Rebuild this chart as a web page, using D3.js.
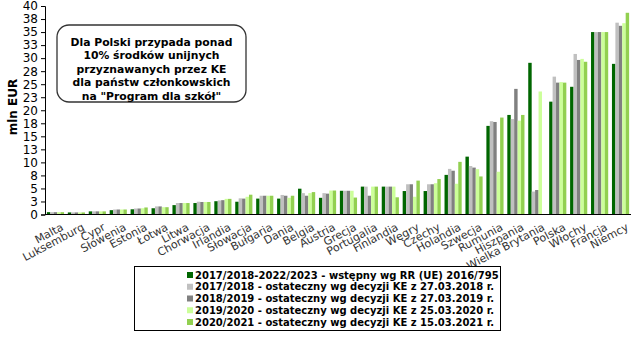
<!DOCTYPE html>
<html>
<head>
<meta charset="utf-8">
<script src="https://cdn.jsdelivr.net/npm/d3@7"></script>
<style>
  html, body { margin: 0; padding: 0; background: #fff; }
  svg { display: block; font-family: Verdana, "DejaVu Sans", sans-serif; }
</style>
</head>
<body>
<svg id="chart" width="638" height="337"></svg>
<script>
// Member states, sorted by the initial allocation
const countries = ["Malta","Luksemburg","Cypr","Słowenia","Estonia","Łotwa","Litwa","Chorwacja","Irlandia","Słowacja","Bułgaria","Dania","Belgia","Austria","Grecja","Portugalia","Finlandia","Węgry","Czechy","Holandia","Szwecja","Rumunia","Hiszpania","Wielka Brytania","Polska","Włochy","Francja","Niemcy"];

// Allocations in mln EUR, one array per allocation decision
const alloc2016 = [0.45,0.4,0.6,0.83,1.0,1.2,1.8,2.2,2.55,2.45,3.05,3.05,4.95,3.2,4.55,5.35,5.35,4.5,4.5,7.6,11.1,17.0,19.1,29.1,21.65,24.5,35.0,28.9];
const alloc2018 = [0.45,0.4,0.6,0.96,1.15,1.55,2.2,2.45,2.7,3.1,3.6,3.75,4.1,4.1,4.55,5.35,5.35,5.8,5.8,8.75,9.3,17.9,18.3,4.4,26.45,30.8,35.0,36.8];
const alloc2019 = [0.45,0.4,0.6,0.96,1.15,1.55,2.2,2.4,2.75,3.05,3.6,3.6,3.6,4.0,4.55,3.6,5.35,5.8,5.8,8.4,9.0,17.75,24.1,4.7,25.3,29.65,35.0,36.2];
const alloc2020 = [0.45,0.4,0.6,0.96,1.2,1.4,2.2,2.4,3.0,3.4,3.6,3.2,4.1,4.6,4.55,5.35,5.35,3.4,6.0,5.9,8.7,8.2,18.0,23.6,25.4,29.85,35.0,36.7];
const alloc2021 = [0.45,0.4,0.6,0.96,1.35,1.4,2.2,2.4,3.0,3.8,3.6,3.6,4.3,4.6,3.25,5.35,3.3,6.5,6.8,10.1,7.3,18.6,19.1,null,25.3,29.3,35.0,38.7];

const seriesNames = [
  "2017/2018-2022/2023 - wstępny wg RR (UE) 2016/795",
  "2017/2018 - ostateczny wg decyzji KE z 27.03.2018 r.",
  "2018/2019 - ostateczny wg decyzji KE z 27.03.2019 r.",
  "2019/2020 - ostateczny wg decyzji KE z 25.03.2020 r.",
  "2020/2021 - ostateczny wg decyzji KE z 15.03.2021 r."
];
const seriesColors = ["#006600", "#c0c0c0", "#808080", "#ccff99", "#92d050"];

const yTickValues = [0,2.5,5,7.5,10,12.5,15,17.5,20,22.5,25,27.5,30,32.5,35,37.5,40];
const yTickLabels = ["0","3","5","8","10","13","15","18","20","23","25","28","30","33","35","38","40"];

const noteLines = [
  "Dla Polski przypada ponad",
  "10% środków unijnych",
  "przyznawanych przez KE",
  "dla państw członkowskich",
  "na \"Program dla szkół\""
];

const seriesValues = [alloc2016, alloc2018, alloc2019, alloc2020, alloc2021];
const keys = seriesNames.map((d, i) => "s" + i);
const table = countries.map((c, i) => {
  const row = { country: c };
  keys.forEach((k, j) => { row[k] = seriesValues[j][i]; });
  return row;
});

const svg = d3.select("#chart");
const plot = { left: 45, right: 631, top: 6, bottom: 214.5 };

const x0 = d3.scaleBand().domain(countries).range([plot.left, plot.right]).paddingInner(0.18).paddingOuter(0.09);
const x1 = d3.scaleBand().domain(keys).range([0, x0.bandwidth()]);
const y = d3.scaleLinear().domain([0, 40]).range([plot.bottom, plot.top]);
const color = d3.scaleOrdinal().domain(keys).range(seriesColors);

// Bars
const groups = svg.append("g").selectAll("g").data(table).join("g")
  .attr("transform", d => `translate(${x0(d.country)},0)`);
groups.selectAll("rect")
  .data(d => keys.map(k => ({ key: k, value: d[k] })).filter(d => d.value != null))
  .join("rect")
  .attr("x", d => x1(d.key))
  .attr("width", x1.bandwidth())
  .attr("y", d => y(d.value))
  .attr("height", d => y(0) - y(d.value))
  .attr("fill", d => color(d.key));

// Y axis
const yAxis = d3.axisLeft(y).tickValues(yTickValues)
  .tickFormat((d, i) => yTickLabels[i]).tickSize(4).tickPadding(3);
const gy = svg.append("g").attr("transform", `translate(${plot.left},0)`).call(yAxis);
gy.select(".domain").attr("stroke", "#000");
gy.selectAll(".tick line").attr("stroke", "#000");
gy.selectAll(".tick text").attr("font-size", 12).attr("fill", "#000")
  .attr("font-family", "Verdana, 'DejaVu Sans', sans-serif");

// X axis line and rotated category labels
svg.append("line")
  .attr("x1", plot.left).attr("x2", plot.right)
  .attr("y1", y(0)).attr("y2", y(0))
  .attr("stroke", "#000");
svg.append("g").selectAll("text").data(countries).join("text")
  .attr("transform", d => `translate(${x0(d) + x0.bandwidth() / 2 + 5},${y(0) + 8}) rotate(-28)`)
  .attr("text-anchor", "end")
  .attr("dy", "0.72em")
  .attr("font-size", 11)
  .attr("fill", "#333")
  .text(d => d);

// Y axis title
svg.append("text")
  .attr("transform", "translate(17,107) rotate(-90)")
  .attr("text-anchor", "middle")
  .attr("font-size", 12).attr("font-weight", "bold")
  .text("mln EUR");

// Note box
svg.append("rect")
  .attr("x", 57).attr("y", 25).attr("width", 189).attr("height", 77)
  .attr("rx", 12).attr("ry", 12)
  .attr("fill", "#fff").attr("stroke", "#333").attr("stroke-width", 1.3);
svg.append("g").selectAll("text").data(noteLines).join("text")
  .attr("x", 151.5)
  .attr("y", (d, i) => 42 + i * 13.5)
  .attr("dy", "0.36em")
  .attr("text-anchor", "middle")
  .attr("font-size", 10.8).attr("font-weight", "bold")
  .text(d => d);

// Legend
svg.append("rect")
  .attr("x", 134.5).attr("y", 266.5).attr("width", 366).attr("height", 64)
  .attr("fill", "#fff").attr("stroke", "#000");
const legend = svg.append("g").selectAll("g").data(keys).join("g")
  .attr("transform", (d, i) => `translate(187,${275 + i * 11.75})`);
legend.append("rect")
  .attr("x", 0).attr("y", -3).attr("width", 6).attr("height", 6)
  .attr("fill", d => color(d));
legend.append("text")
  .attr("x", 8).attr("dy", "0.36em")
  .attr("font-size", 10).attr("font-weight", "bold")
  .text((d, i) => seriesNames[i]);
</script>
</body>
</html>
